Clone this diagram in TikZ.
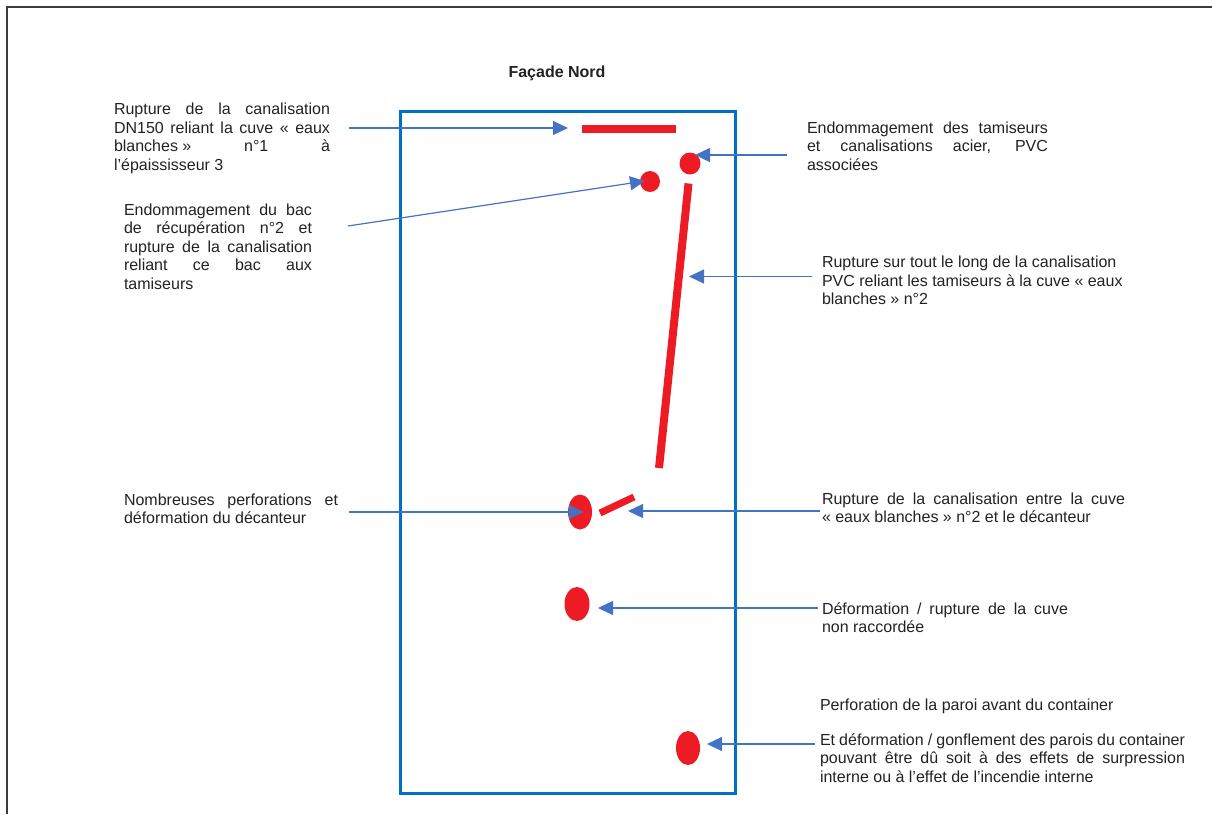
\documentclass[tikz,border=0pt]{standalone}
\usepackage{fontspec}
\setmainfont{Liberation Sans}
\usetikzlibrary{arrows.meta,shapes.geometric}
\definecolor{txt}{HTML}{222222}
\definecolor{callout}{HTML}{4472C4}
\definecolor{wall}{HTML}{0070C0}
\definecolor{damage}{HTML}{ED1C24}
\definecolor{frame}{HTML}{3C3C3C}
% justified line of given width, and plain line
\newcommand\jl[2]{\hbox to #1pt{#2}}
\newcommand\pl[1]{\hbox{#1}}
\newcommand\block[1]{\vtop{\baselineskip=18.5pt\lineskiplimit=-20pt #1}}
\tikzset{
  note/.style={anchor=base west, inner sep=0pt, outer sep=0pt, text=txt,
    font=\fontsize{16pt}{18.5pt}\selectfont},
  callout/.style={draw=callout, line width=1.2pt, -{Triangle[length=15pt,width=14pt]}},
  spot/.style={ellipse, fill=damage, inner sep=0pt, draw=none},
  pipe/.style={draw=damage, line width=8pt},
}
\begin{document}
\begin{tikzpicture}[x=1pt,y=-1pt]
\useasboundingbox (0,0) rectangle (1212,814);
% sheet border
\draw[frame, line width=1.5pt] (7,814) -- (7,7) -- (1212,7);
% title
\node[anchor=base, inner sep=0pt, text=txt, font=\bfseries\fontsize{16pt}{18pt}\selectfont] (title) at (557,77) {Façade Nord};
% container outline
\node[draw=wall, line width=2.5pt, inner sep=0pt, minimum width=335pt, minimum height=682pt, anchor=north west] (cont) at (399,110) {};

% damaged pipes
\draw[pipe] (582,128.5) coordinate (p1a) -- (676,128.5) coordinate (p1b);
\draw[pipe] (688.5,183.5) coordinate (p2a) -- (659,468) coordinate (p2b);
\draw[pipe, line width=7pt] (600,513) coordinate (p3a) -- (634,497) coordinate (p3b);

% damaged equipment
\node[spot, minimum width=21pt, minimum height=22pt] (m1) at (690,163.5) {};
\node[spot, minimum width=20pt, minimum height=21pt] (m2) at (650,181.5) {};
\node[spot, minimum width=24pt, minimum height=35pt] (m3) at (580,512) {};
\node[spot, minimum width=25pt, minimum height=34pt] (m4) at (577,604) {};
\node[spot, minimum width=24pt, minimum height=34pt] (m5) at (688,748) {};

% labels
\node[note] (tA) at (114,114.5) {\block{%
  \jl{216}{Rupture de la canalisation}
  \jl{216}{DN150 reliant la cuve « eaux}
  \jl{216}{\hbox{blanches »} n°1 à}
  \pl{l’épaississeur 3}}};
\node[note] (tB) at (124,215) {\block{%
  \jl{188}{Endommagement du bac}
  \jl{188}{de récupération n°2 et}
  \jl{188}{rupture de la canalisation}
  \jl{188}{reliant ce bac aux}
  \pl{tamiseurs}}};
\node[note] (tC) at (807,133) {\block{%
  \jl{241}{Endommagement des tamiseurs}
  \jl{241}{et canalisations acier, PVC}
  \pl{associées}}};
\node[note] (tD) at (822,267.5) {\block{%
  \pl{Rupture sur tout le long de la canalisation}
  \pl{PVC reliant les tamiseurs à la cuve « eaux}
  \pl{blanches » n°2}}};
\node[note] (tE) at (124,505) {\block{%
  \jl{214}{Nombreuses perforations et}
  \pl{déformation du décanteur}}};
\node[note] (tF) at (822,504) {\block{%
  \jl{303}{Rupture de la canalisation entre la cuve}
  \pl{« eaux blanches » n°2 et le décanteur}}};
\node[note] (tG) at (822,614) {\block{%
  \jl{246}{Déformation / rupture de la cuve}
  \pl{non raccordée}}};
\node[note] (tH) at (820,710) {Perforation de la paroi avant du container};
\node[note] (tI) at (820,745) {\block{%
  \jl{365}{Et déformation / gonflement des parois du container}
  \jl{365}{pouvant être dû soit à des effets de surpression}
  \pl{interne ou à l’effet de l’incendie interne}}};

% callout arrows
\coordinate (s1) at (349,128);   \coordinate (e1) at (568,128);
\coordinate (s2) at (787,155);   \coordinate (e2) at (695,155);
\coordinate (s3) at (348,226);   \coordinate (e3) at (645,181);
\coordinate (s4) at (812,276.5); \coordinate (e4) at (689,276.5);
\coordinate (s5) at (349,512);   \coordinate (e5) at (584,512);
\coordinate (s6) at (820,511);   \coordinate (e6) at (628,511);
\coordinate (s7) at (818,608);   \coordinate (e7) at (598,608);
\coordinate (s8) at (815,744);   \coordinate (e8) at (707,744);
\foreach \i in {1,...,8} \draw[callout] (s\i) -- (e\i);
\end{tikzpicture}
\end{document}
